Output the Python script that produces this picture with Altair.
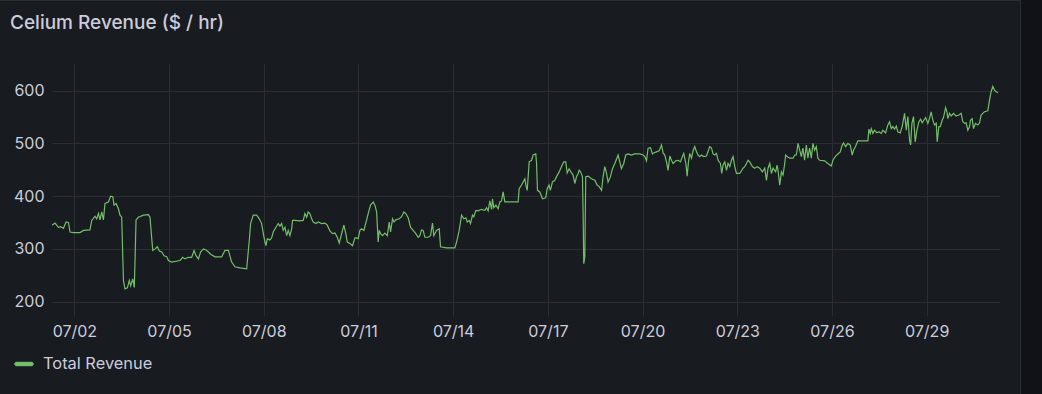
import altair as alt
import pandas as pd

TITLE = "Celium Revenue ($ / hr)"
SERIES = "Total Revenue"
LINE_COLOR = "#73bf69"

# hours after 2024-07-01 00:00 UTC
HOURS = [
    7, 9.3, 11.9, 13.5, 15.7, 17.7, 19.5, 20.7, 23.3, 28.3, 30.9, 35.9, 37.2, 39.7, 41.0, 42.3, 43.5, 44.8,
    46.1, 47.3, 49.9, 51.6, 53.2, 54.2, 55.7, 57.5, 58.7, 60.0, 61.3, 62.5, 64.3, 65.8, 66.8, 68.4, 69.6,
    70.9, 72.7, 76.5, 80.3, 81.5, 83.6, 85.3, 87.1, 88.6, 90.4, 92.2, 94.2, 95.5, 98.0, 104.3, 106.4,
    108.1, 110.7, 113.2, 115.0, 116.5, 118.3, 120.0, 122.1, 124.1, 125.9, 127.6, 130.9, 136.0, 138.5,
    141.1, 143.6, 146.1, 149.9,
    155, 157, 158, 160, 162.6, 164.6, 166.4, 167.6, 168.9, 169.7, 170.7, 172.7, 174, 175.2, 177.3, 179,
    180.3, 181.6, 182.8, 184.1, 185.4, 186.6, 187.9, 189.2, 189.9, 191.7, 195.5, 198, 199.3, 200.6, 201.8,
    203.1, 204.4, 205.6, 207.7, 209.4, 212, 214.5, 216.3, 218.3, 220.3, 222.1, 223.9, 225.4, 227.2, 228.9,
    230.4, 231.5, 233.5, 235.5, 237.3, 238.6, 239.8, 241.1, 242.4, 244.1, 245.6, 247.4, 249.2, 251.2,
    252.5, 253.8, 255, 255.8, 256.8, 258.3, 260.1, 261.9, 263.4, 264.4, 265.9, 267, 268.4, 271, 272.8,
    274.5, 276, 277.8, 279.6, 281.6, 283.6, 285.4, 286.7, 287.9, 289.2, 290.5, 293, 294.8, 296.3, 297.3,
    299.3, 301.4,
    302.4, 306.9, 313.3, 314.6, 316.6, 318.4, 320.1, 321.7, 322.7, 324.2, 325.2, 326.7, 327.7, 329.3, 331,
    333.6, 336.1, 337.4, 338.6, 339.9, 341.2, 341.9, 342.9, 344.5, 346.2, 347.5, 348.8, 350, 351.3, 352.6,
    361.4, 362.2, 364, 365.2, 366.5, 367.3, 368.3, 369.8, 371.6, 372.8, 374.8, 375.4, 376.1, 377.9, 379.9,
    382.4, 383.5, 384.9, 385.9, 387.5, 389.3, 390.6, 392.6, 394.4, 396.1, 397.6, 398.7, 400.2, 402, 403.2,
    404.5, 405.8, 407, 407.8, 408.8, 410.3, 410.8, 411.3, 412.1, 412.8, 414.6, 417.1, 419.7, 421.5, 423,
    424.8, 426, 427.3, 428.6, 429.8, 431.6, 433.1, 434.9, 437.4, 438.7, 439.9, 441.7, 443.2, 445,
    447.5, 450.1, 453.9, 456.4, 457.7, 459, 460.2, 462, 463.5, 464.5, 466.6, 468.6, 470.4, 471.6, 472.9,
    474.2, 475.4, 476.7, 478, 479.2, 481.3, 483, 484.8, 486.3, 487.3, 488.9, 489.9, 490.9, 491.9, 493.2,
    494.4, 495.7, 497, 498.2, 499.5, 500.8, 502.5, 504.6, 507.1, 508.4, 509.6, 510.9, 512.2, 513.4, 515.2,
    516.2, 517.2, 518.5, 519.8, 521, 522.3, 523.6, 524.8, 526.1, 527.4, 529.9, 532.4, 533.7, 535, 536.2,
    537.5, 539.5, 541.3, 543.1, 545.1, 547.1, 548.9, 550.2, 551.4, 552.7, 554, 555.2, 557.2, 558.3, 559,
    560.3, 561.6, 562.8, 564.1, 564.8, 565.9, 567.9, 570.4, 571.7, 572.9, 574.2,
    576.7, 577.9, 579.2, 580.5, 581.7, 583, 584.3, 585.5, 586.8, 588.1, 589.3, 590.6, 594.4, 596.9, 599.5,
    600.7, 602.8, 604.5, 606.3, 607.8, 608.8, 610.4, 612.1, 613.9, 615.4, 616.4, 617.9, 619.7, 627.3,
    628.1, 629.1, 629.9, 631.1, 632.4, 634.2, 635.7, 637.5, 638.7, 640.8, 642.5, 643.8, 645.1, 646.3,
    647.6, 648.9, 650.1, 651.9, 653.4, 655.2, 656.5, 657.7, 659, 659.8, 660.8, 662, 663.3, 664.6, 666.1,
    667.4, 668.6, 669.9, 671.2, 672.9, 674.2, 675.4, 676.7, 678, 679.3, 680, 681.3, 682.3, 683.8, 684.8,
    686.4, 687.4, 688.1, 689.4, 690.7, 692.4, 694.4, 696.5, 698.2, 699.5, 700.8, 702, 703.3, 704.6, 705.3,
    706.6, 707.6, 709.1, 710.9, 712.2, 713.4, 714.7, 716, 718.5, 719.8, 721, 722.3, 723.6, 724.9, 726.1,
]

REVENUE = [
    345, 349, 341, 342, 339, 351, 350, 332, 331, 331, 335, 336, 354, 362, 357, 367, 355, 370,
    355, 386, 389, 400, 399, 383, 386, 376, 364, 360, 240, 224, 226, 240, 230, 243, 227,
    355, 360, 364, 365, 360, 297, 300, 304, 296, 294, 287, 285, 278, 275, 278, 284,
    281, 284, 284, 297, 287, 281, 294, 300, 298, 294, 290, 285, 285, 297,
    297, 275, 266, 264,
    262, 316, 348, 364, 364, 357, 348, 330, 313, 306, 319, 317, 321, 332, 341, 348,
    343, 348, 335, 341, 325, 335, 325, 338, 354, 354, 353, 354, 367, 360, 370,
    367, 357, 351, 348, 351, 348, 349, 345, 334, 329, 330, 322, 311, 329, 345,
    329, 313, 310, 306, 321, 321, 319, 335, 338, 335, 349, 367, 383, 389,
    383, 370, 313, 335, 329, 325, 330, 325, 351, 332, 357, 351, 355, 357, 361,
    370, 367, 359, 341, 335, 329, 322, 325, 336, 335, 322, 322, 325, 349, 325,
    335, 338,
    304, 302, 302, 313, 335, 364, 357, 359, 351, 354, 348, 364, 361, 373, 372,
    375, 373, 378, 372, 391, 375, 395, 378, 383, 376, 389, 391, 408, 389, 389,
    389, 414, 421, 427, 433, 421, 411, 465, 468, 478, 480, 462, 411, 408, 395,
    397, 414, 421, 411, 427, 430, 437, 446, 456, 465, 465, 444, 452, 444, 440,
    424, 437, 443, 449, 446, 437, 367, 272, 285, 437, 438, 433, 430, 421, 418,
    411, 437, 456, 443, 427, 437, 452, 462, 478, 465, 452, 462, 478, 480,
    478, 480, 480, 478, 475, 467, 491, 492, 480, 482, 484, 486, 497, 482, 478,
    465, 449, 476, 468, 462, 467, 468, 465, 475, 481, 462, 438, 465, 481, 472,
    486, 494, 484, 478, 475, 478, 475, 476, 494, 491, 480, 478, 481, 468, 462,
    443, 459, 465, 449, 462, 456, 468, 475, 456, 443, 443, 453, 456, 462, 468,
    465, 456, 453, 456, 453, 446, 453, 430, 453, 462, 443, 453, 446, 459, 449,
    421, 446, 440, 462, 478, 475, 472, 472, 478, 478, 500,
    475, 491, 468, 497, 472, 491, 472, 500, 487, 494, 472, 468, 467, 462, 457,
    468, 476, 480, 484, 497, 501, 494, 500, 497, 478, 487, 494, 505, 505,
    527, 519, 528, 519, 525, 520, 522, 519, 525, 520, 535, 541, 528, 532,
    527, 533, 522, 520, 532, 557, 525, 551, 506, 497, 538, 551, 503, 525, 541,
    546, 539, 544, 549, 538, 548, 560, 544, 535, 538, 503, 532, 532, 544, 549,
    568, 560, 547, 557, 552, 557, 552, 554, 557, 541, 538, 539, 525, 532, 544,
    547, 528, 538, 535, 539, 554, 557, 560, 562, 582, 598, 608, 601, 598, 596,
]

Y_TICKS = [200, 300, 400, 500, 600]
X_TICK_DATES = ["2024-07-02", "2024-07-05", "2024-07-08", "2024-07-11", "2024-07-14",
                "2024-07-17", "2024-07-20", "2024-07-23", "2024-07-26", "2024-07-29"]
X_RANGE_HOURS = [7, 727]
Y_RANGE = [172.7, 650.6]

BASE_MS = pd.Timestamp("2024-07-01T00:00:00Z").value // 10**6
HOUR_MS = 3600 * 1000


def to_ms(h):
    return BASE_MS + h * HOUR_MS


df = pd.DataFrame({
    "t": [to_ms(h) for h in HOURS],
    "revenue": REVENUE,
    "series": [SERIES] * len(REVENUE),
})
x_ticks = [pd.Timestamp(d + "T00:00:00Z").value // 10**6 for d in X_TICK_DATES]

BG = "#181b1f"
TEXT = "#ccccdc"
GRID = "#2c2e33"
FONT = "Inter"

legend_path = ("M -0.8 -0.2 L 0.8 -0.2 A 0.2 0.2 0 0 1 0.8 0.2 "
               "L -0.8 0.2 A 0.2 0.2 0 0 1 -0.8 -0.2 Z")

line = alt.Chart(df).mark_line(strokeWidth=1.2, clip=True).encode(
    x=alt.X(
        "t:T",
        scale=alt.Scale(type="utc", domain=[to_ms(X_RANGE_HOURS[0]), to_ms(X_RANGE_HOURS[1])], nice=False),
        axis=alt.Axis(values=x_ticks, labelExpr="utcFormat(datum.value, '%m/%d')", title=None,
                      labelFontSize=16, labelColor=TEXT, labelFont=FONT, labelPadding=7,
                      ticks=False, domain=False, grid=True, gridColor=GRID, gridWidth=1,
                      labelFlush=False, labelOverlap=False),
    ),
    y=alt.Y(
        "revenue:Q",
        scale=alt.Scale(domain=Y_RANGE, nice=False, zero=False),
        axis=alt.Axis(values=Y_TICKS, title=None, labelFontSize=16, labelColor=TEXT,
                      labelFont=FONT, labelPadding=8, ticks=False, domain=False,
                      grid=True, gridColor=GRID, gridWidth=1),
    ),
    color=alt.Color(
        "series:N",
        scale=alt.Scale(range=[LINE_COLOR]),
        legend=alt.Legend(
            title=None, orient="none", legendX=-38, legendY=290,
            symbolType=legend_path, symbolSize=361, symbolFillColor=LINE_COLOR,
            symbolStrokeColor=LINE_COLOR, symbolStrokeWidth=0.5, symbolOpacity=1,
            labelFontSize=16.4, labelColor=TEXT, labelFont=FONT, labelOffset=9,
            padding=0,
        ),
    ),
)

deco_df = pd.DataFrame({"k": [0]})
strip = alt.Chart(deco_df).mark_rect(color="#111217").encode(
    x=alt.value(969), x2=alt.value(990), y=alt.value(-64), y2=alt.value(330)
)
right_border = alt.Chart(deco_df).mark_rule(color="#2a2d33", strokeWidth=1).encode(
    x=alt.value(968.5), y=alt.value(-64), y2=alt.value(330)
)
top_border = alt.Chart(deco_df).mark_rule(color="#2a2d33", strokeWidth=1).encode(
    x=alt.value(-52), x2=alt.value(969), y=alt.value(-63.5)
)
title = alt.Chart(pd.DataFrame({"title": [TITLE]})).mark_text(
    align="left", baseline="alphabetic", fontSize=19, fontWeight=500, font=FONT, color=TEXT
).encode(text="title:N", x=alt.value(-42), y=alt.value(-35))

chart = alt.layer(strip, right_border, top_border, title, line).properties(
    width=947,
    height=252,
    background=BG,
    padding={"left": 52, "top": 64, "right": 43, "bottom": 78},
    autosize=alt.AutoSizeParams(type="none"),
).configure_view(stroke=None)

chart.save("out.html", embed_options={"renderer": "svg", "actions": False})
